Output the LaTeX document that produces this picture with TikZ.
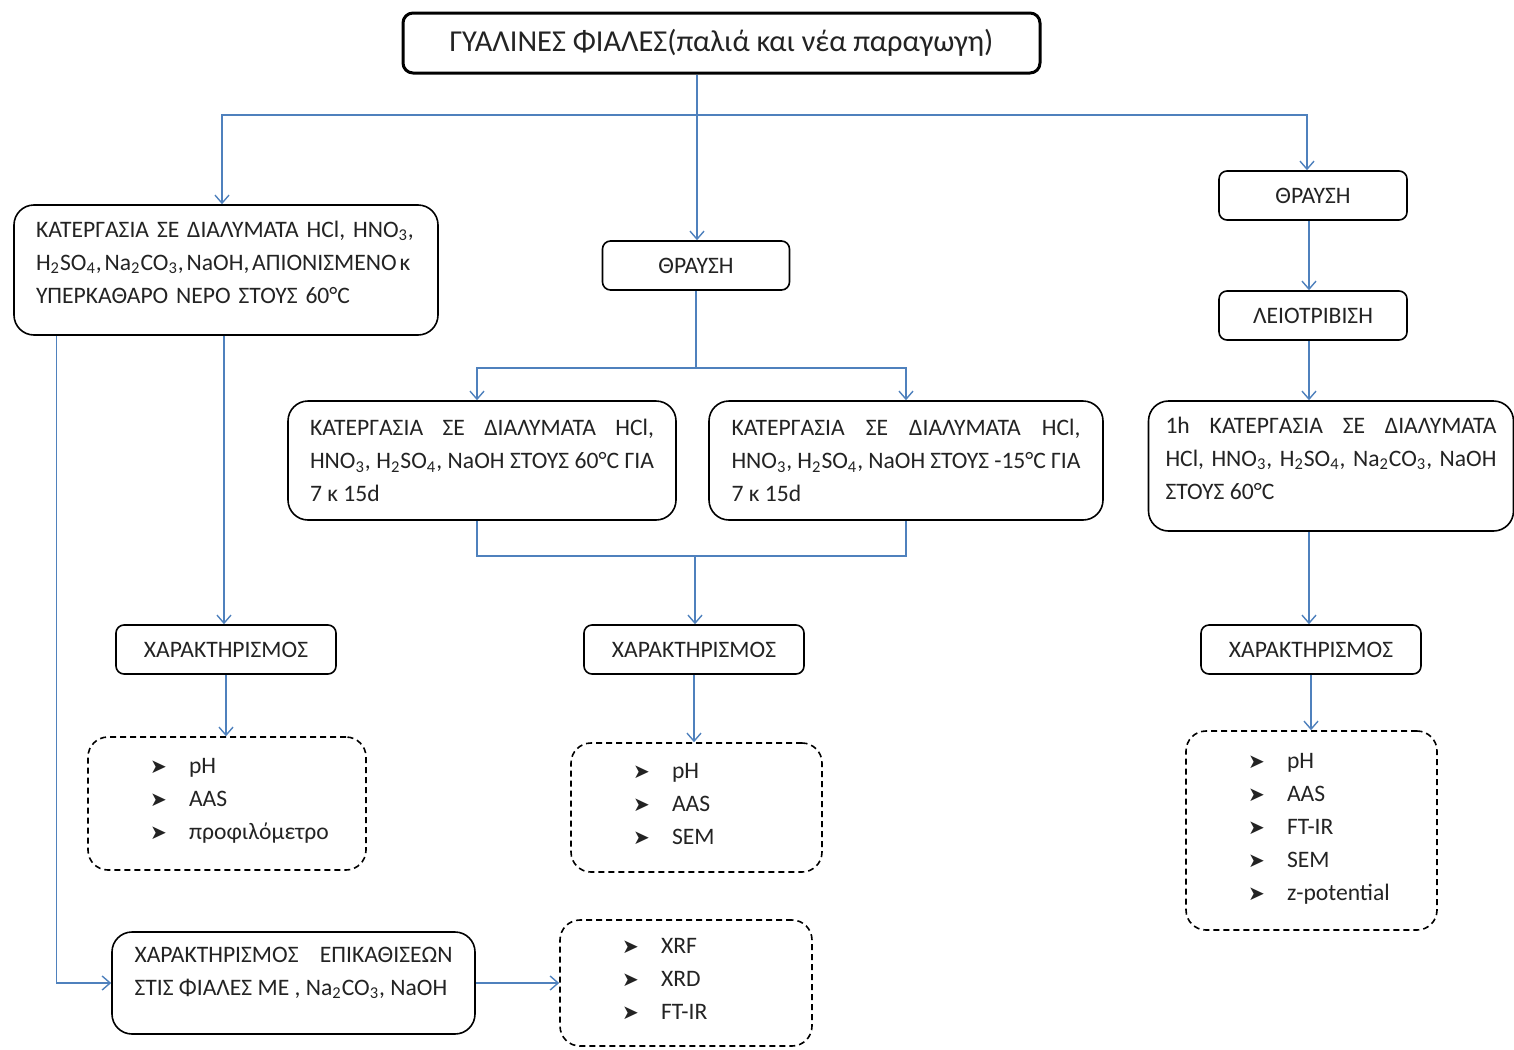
\documentclass[tikz,border=0pt]{standalone}
\usepackage{fontspec}
\setmainfont{Carlito}
\newfontfamily\symfont{DejaVu Sans}
\usetikzlibrary{arrows.meta, positioning, calc}
\definecolor{linkblue}{RGB}{79,129,189}
\definecolor{inkgray}{RGB}{35,35,35}
\newcommand{\chsub}[1]{\textsubscript{#1}}
\newcommand{\itm}[1]{\hspace*{31pt}\makebox[19.5pt][l]{\symfont\fontsize{10}{10}\selectfont ➤}#1}
\newcommand{\lowpad}[1]{\rule[-#1]{0pt}{0pt}}
\tikzset{titlebox/.style={rectangle,draw,line width=1.5pt,rounded corners=5pt,fill=white,align=center,
           font=\fontsize{15.2}{18}\selectfont,text=inkgray},
         block/.style={rectangle,draw,line width=0.8pt,rounded corners=10pt,fill=white,align=left,
           font=\fontsize{11.8}{16.5}\selectfont,text=inkgray},
         smallblock/.style={rectangle,draw,line width=0.8pt,rounded corners=4pt,fill=white,align=center,
           minimum height=24.5pt,font=\fontsize{11.8}{14}\selectfont,text=inkgray},
         listbox/.style={rectangle,draw,line width=0.8pt,dash pattern=on 3pt off 2pt,rounded corners=10pt,
           inner xsep=0pt,align=left,font=\fontsize{11.8}{16.5}\selectfont,text=inkgray},
         arrow/.style={-{Straight Barb[length=4pt,width=7pt]},line width=0.7pt,linkblue},
         link/.style={line width=0.7pt,linkblue}}
\begin{document}
\begin{tikzpicture}[x=0.5pt,y=-0.5pt]
  \useasboundingbox (0,0) rectangle (1514,1049);
  % top of the tree
  \node (glass) [titlebox, minimum width=318.5pt, minimum height=30pt] at (721.5,43) {ΓΥΑΛΙΝΕΣ ΦΙΑΛΕΣ(παλιά και νέα παραγωγη)};
  \coordinate (split) at (697,115);
  % left branch
  \node (kl) [block, minimum width=212pt, minimum height=65pt, text width=190pt] at (226,270)
    {ΚΑΤΕΡΓΑΣΙΑ ΣΕ ΔΙΑΛΥΜΑΤΑ HCl, HNO\chsub{3},\\ {\spaceskip=0.12em\relax H\chsub{2}SO\chsub{4}, Na\chsub{2}CO\chsub{3}, NaOH, ΑΠΙΟΝΙΣΜΕΝΟ κ}\\ ΥΠΕΡΚΑΘΑΡΟ ΝΕΡΟ ΣΤΟΥΣ 60°C\lowpad{8pt}};
  \node (charl) [smallblock, minimum width=110pt] at (226,649.5) {ΧΑΡΑΚΤΗΡΙΣΜΟΣ};
  \node (listl) [listbox, minimum width=139pt, minimum height=66.5pt, text width=139pt] at (227,803.5)
    {\itm{pH}\\ \itm{AAS}\\ \itm{προφιλόμετρο}\lowpad{5pt}};
  \node (charb) [block, align=justify, minimum width=181.5pt, minimum height=51pt, text width=159pt] at (293.5,983)
    {ΧΑΡΑΚΤΗΡΙΣΜΟΣ ΕΠΙΚΑΘΙΣΕΩΝ\linebreak ΣΤΙΣ ΦΙΑΛΕΣ ΜΕ , Na\chsub{2}CO\chsub{3}, NaOH\lowpad{12pt}};
  \node (listb) [listbox, minimum width=126pt, minimum height=63pt, text width=126pt] at (686,983)
    {\itm{XRF}\\ \itm{XRD}\\ \itm{FT-IR}\lowpad{4pt}};
  % middle branch
  \node (thrm) [smallblock, minimum width=93.5pt] at (696,265.5) {ΘΡΑΥΣΗ};
  \node (km1) [block, align=justify, minimum width=194pt, minimum height=59.5pt, text width=172pt] at (482,460.5)
    {ΚΑΤΕΡΓΑΣΙΑ ΣΕ ΔΙΑΛΥΜΑΤΑ HCl,\linebreak HNO\chsub{3}, H\chsub{2}SO\chsub{4}, NaOH ΣΤΟΥΣ 60°C ΓΙΑ\linebreak 7 κ 15d};
  \node (km2) [block, align=justify, minimum width=197pt, minimum height=59.5pt, text width=174.5pt] at (906,460.5)
    {ΚΑΤΕΡΓΑΣΙΑ ΣΕ ΔΙΑΛΥΜΑΤΑ HCl,\linebreak HNO\chsub{3}, H\chsub{2}SO\chsub{4}, NaOH ΣΤΟΥΣ -15°C ΓΙΑ\linebreak 7 κ 15d};
  \coordinate (mjoin) at (695,556);
  \node (charm) [smallblock, minimum width=110pt] at (694,649.5) {ΧΑΡΑΚΤΗΡΙΣΜΟΣ};
  \node (listm) [listbox, minimum width=125.5pt, minimum height=64.5pt, text width=125.5pt] at (696.5,807.5)
    {\itm{pH}\\ \itm{AAS}\\ \itm{SEM}\lowpad{4pt}};
  % right branch
  \node (thrr) [smallblock, minimum width=94pt] at (1313,195.5) {ΘΡΑΥΣΗ};
  \node (leio) [smallblock, minimum width=94pt] at (1313,315.5) {ΛΕΙΟΤΡΙΒΙΣΗ};
  \node (kr) [block, align=justify, minimum width=182.5pt, minimum height=65pt, text width=165.5pt] at (1331,466)
    {1h ΚΑΤΕΡΓΑΣΙΑ ΣΕ ΔΙΑΛΥΜΑΤΑ\linebreak HCl, HNO\chsub{3}, H\chsub{2}SO\chsub{4}, Na\chsub{2}CO\chsub{3}, NaOH\linebreak ΣΤΟΥΣ 60°C\lowpad{8pt}};
  \node (charr) [smallblock, minimum width=110pt] at (1311,649.5) {ΧΑΡΑΚΤΗΡΙΣΜΟΣ};
  \node (listr) [listbox, minimum width=125.5pt, minimum height=99.5pt, text width=125.5pt] at (1311.5,830.5)
    {\itm{pH}\\ \itm{AAS}\\ \itm{FT-IR}\\ \itm{SEM}\\ \itm{z-potential}\lowpad{4pt}};
  % connectors
  \draw[arrow] (split |- glass.south) -- (split |- thrm.north);
  \draw[arrow] (split) -| ([xshift=-2pt]kl.north);
  \draw[arrow] (split) -| ([xshift=-3pt]thrr.north);
  \draw[arrow] ([xshift=-2pt]thrr.south) -- ([xshift=-2pt]leio.north);
  \draw[arrow] ([xshift=-2pt]leio.south) -- ([xshift=-2pt]leio.south |- kr.north);
  \draw[arrow] ([xshift=-2pt]leio.south |- kr.south) -- ([xshift=-1pt]charr.north);
  \draw[arrow] (charr.south) -- (charr.south |- listr.north);
  \draw[link] (thrm.south) -- ++(0,77) coordinate (msplit);
  \draw[arrow] (msplit) -| ([xshift=-2.5pt]km1.north);
  \draw[arrow] (msplit) -| (km2.north);
  \draw[link] ([xshift=-2.5pt]km1.south) |- (mjoin) -| (km2.south);
  \draw[arrow] (mjoin) -- (mjoin |- charm.north);
  \draw[arrow] (charm.south) -- (charm.south |- listm.north);
  \draw[arrow] ([xshift=-1pt]kl.south) -- ([xshift=-1pt]kl.south |- charl.north);
  \draw[arrow] (charl.south) -- (charl.south |- listl.north);
  \draw[arrow] ([xshift=21.5pt]kl.south west) |- (charb.west);
  \draw[arrow] (charb.east) -- (listb.west);
\end{tikzpicture}
\end{document}
